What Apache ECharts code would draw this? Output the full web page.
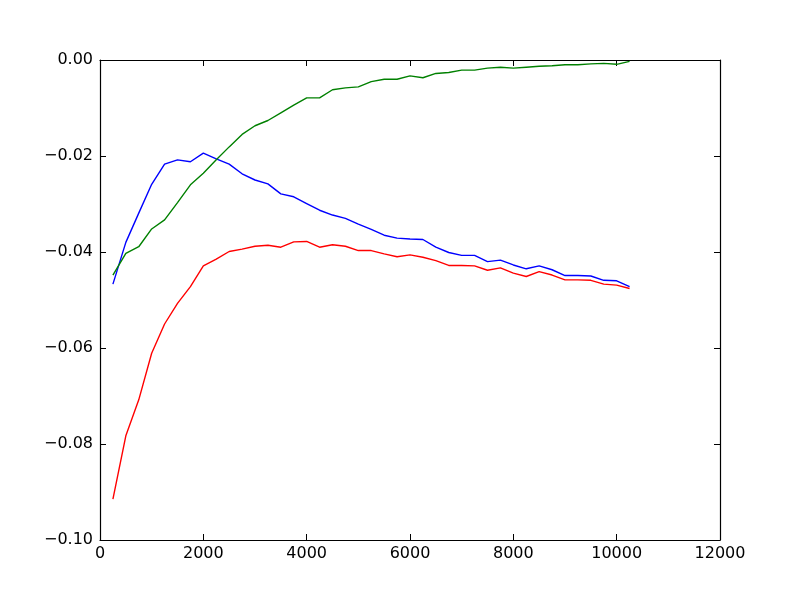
<!DOCTYPE html>
<html>
<head>
<meta charset="utf-8">
<script src="https://cdn.jsdelivr.net/npm/echarts@6/dist/echarts.min.js"></script>
<style>html,body{margin:0;padding:0;background:#fff;}#c{width:800px;height:600px;}</style>
</head>
<body>
<div id="c"></div>
<script>
const xs = [250,500,750,1000,1250,1500,1750,2000,2250,2500,2750,3000,3250,3500,3750,4000,4250,4500,4750,5000,5250,5500,5750,6000,6250,6500,6750,7000,7250,7500,7750,8000,8250,8500,8750,9000,9250,9500,9750,10000,10250];
const blue = [-0.0467,-0.0380,-0.0319,-0.0259,-0.0217,-0.0208,-0.0212,-0.0194,-0.0206,-0.0217,-0.0237,-0.0250,-0.0258,-0.0279,-0.0285,-0.0299,-0.0313,-0.0323,-0.0330,-0.0342,-0.0353,-0.0365,-0.0371,-0.0373,-0.0374,-0.0390,-0.0401,-0.0407,-0.0407,-0.0420,-0.0417,-0.0427,-0.0435,-0.0429,-0.0437,-0.0449,-0.0449,-0.0450,-0.0459,-0.0460,-0.0472];
const green = [-0.0448,-0.0403,-0.0389,-0.0352,-0.0333,-0.0297,-0.0260,-0.0236,-0.0208,-0.0181,-0.0155,-0.0137,-0.0126,-0.0110,-0.0094,-0.0079,-0.0079,-0.0062,-0.0058,-0.0056,-0.0045,-0.0040,-0.0040,-0.0033,-0.0037,-0.0028,-0.0026,-0.0021,-0.0021,-0.0017,-0.0015,-0.0017,-0.0015,-0.0013,-0.0012,-0.0010,-0.0010,-0.0008,-0.0007,-0.0009,-0.0003];
const red = [-0.0915,-0.0783,-0.0708,-0.0611,-0.0550,-0.0507,-0.0472,-0.0429,-0.0415,-0.0399,-0.0394,-0.0388,-0.0386,-0.0390,-0.0379,-0.0378,-0.0390,-0.0385,-0.0388,-0.0397,-0.0397,-0.0404,-0.0410,-0.0406,-0.0411,-0.0418,-0.0428,-0.0428,-0.0429,-0.0438,-0.0433,-0.0444,-0.0451,-0.0441,-0.0448,-0.0458,-0.0458,-0.0459,-0.0467,-0.0469,-0.0476];

const pair = (ys) => xs.map((x, i) => [x, ys[i]]);
const fontFamily = 'DejaVu Sans';
const axisLine = {show: true, onZero: false, lineStyle: {color: '#000', width: 1.2}};
const tick = {show: true, inside: true, length: 6, lineStyle: {color: '#000', width: 1}};

const chart = echarts.init(document.getElementById('c'), null, {renderer: 'canvas'});
chart.setOption({
  animation: false,
  backgroundColor: '#fff',
  grid: {left: 100, right: 80, top: 60, bottom: 60, containLabel: false},
  xAxis: [
    {type: 'value', min: 0, max: 12000, interval: 2000, position: 'bottom',
     axisLine: axisLine, axisTick: tick, splitLine: {show: false},
     axisLabel: {color: '#000', fontSize: 16, fontFamily: fontFamily, margin: 6,
       formatter: (v) => String(v)}},
    {type: 'value', min: 0, max: 12000, interval: 2000, position: 'top',
     axisLine: axisLine, axisTick: tick, splitLine: {show: false},
     axisLabel: {show: false}}
  ],
  yAxis: [
    {type: 'value', min: -0.1, max: 0, interval: 0.02, position: 'left',
     axisLine: axisLine, axisTick: tick, splitLine: {show: false},
     axisLabel: {color: '#000', fontSize: 16, fontFamily: fontFamily, margin: 7,
       formatter: (v) => (v < 0 ? '\u2212' : '') + Math.abs(v).toFixed(2)}},
    {type: 'value', min: -0.1, max: 0, interval: 0.02, position: 'right',
     axisLine: axisLine, axisTick: tick, splitLine: {show: false},
     axisLabel: {show: false}}
  ],
  series: [
    {type: 'line', data: pair(blue), showSymbol: false, lineStyle: {color: '#0000ff', width: 1.4}, itemStyle: {color: '#0000ff'}},
    {type: 'line', data: pair(green), showSymbol: false, lineStyle: {color: '#008000', width: 1.4}, itemStyle: {color: '#008000'}},
    {type: 'line', data: pair(red), showSymbol: false, lineStyle: {color: '#ff0000', width: 1.4}, itemStyle: {color: '#ff0000'}}
  ]
});
</script>
</body>
</html>
